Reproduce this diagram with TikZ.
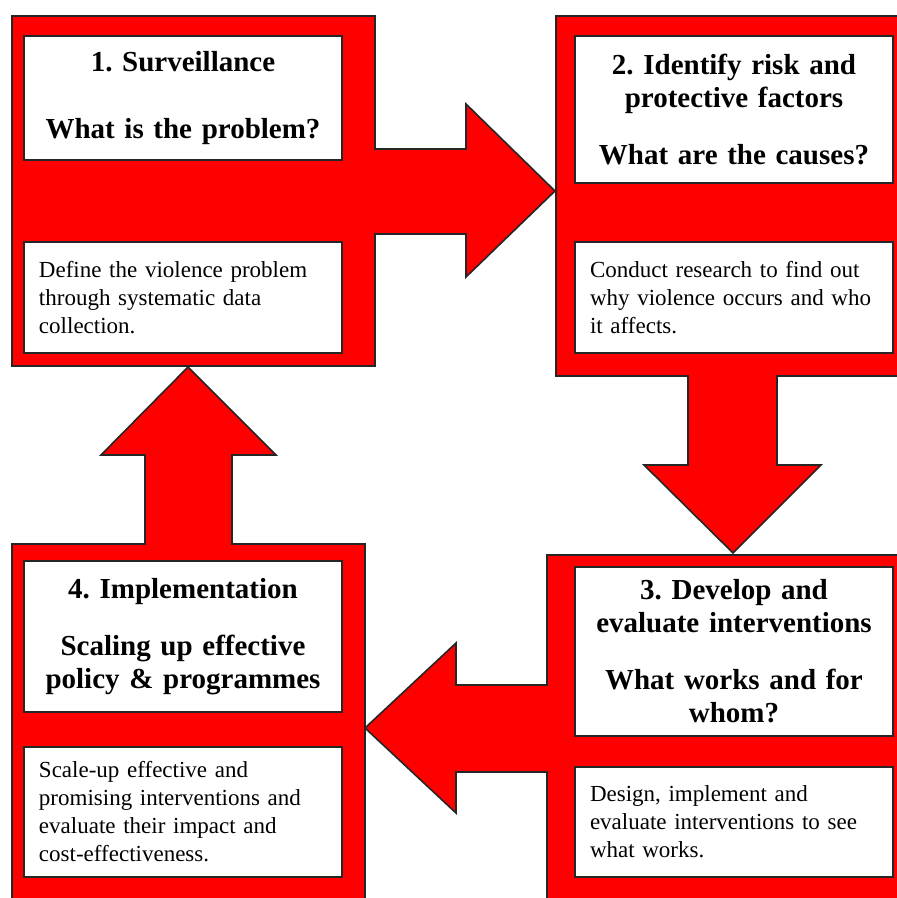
\documentclass[tikz,border=0pt]{standalone}
\usepackage{fontspec}
\setmainfont{Liberation Serif}
\usepackage{tikz}

\begin{document}
\frenchspacing
\begin{tikzpicture}[x=0.5pt,y=-0.5pt,
  panel/.style={fill=red,draw=black!85,line width=0.8pt,line join=miter},
  titlebox/.style={draw=black!85,fill=white,line width=0.8pt,inner sep=0pt,
    minimum width=159pt,text width=152pt,align=center,
    font=\bfseries\fontsize{14.5}{16.5}\selectfont},
  bodybox/.style={draw=black!85,fill=white,line width=0.8pt,inner sep=0pt,
    minimum width=159pt,text width=144pt,align=left,
    font=\fontsize{11.5}{14}\selectfont}]
\useasboundingbox (0,0) rectangle (897,898);
\clip (0,0) rectangle (897,898);
\draw[panel] (12,16) -- (375,16) -- (375,149) -- (466,149) -- (466,104) -- (555,191)
  -- (466,277) -- (466,234) -- (375,234) -- (375,366) -- (12,366) -- cycle;
\draw[panel] (556,16) -- (905,16) -- (905,376) -- (777,376) -- (777,465) -- (821,465)
  -- (733,553) -- (644,465) -- (688,465) -- (688,376) -- (556,376) -- cycle;
\draw[panel] (547,555) -- (905,555) -- (905,905) -- (547,905) -- (547,772) -- (456,772)
  -- (456,813) -- (365,728) -- (456,643) -- (456,685) -- (547,685) -- cycle;
\draw[panel] (12,544) -- (145,544) -- (145,455) -- (101,455) -- (188,367) -- (276,455)
  -- (232,455) -- (232,544) -- (365,544) -- (365,905) -- (12,905) -- cycle;
\node[titlebox,minimum height=62pt] (surv) at (183,98)
  {1. Surveillance\\[17pt] What is the problem?};
\node[bodybox,minimum height=55.5pt] (survtxt) at (183,297.5)
  {Define the violence problem\\ through systematic data\\ collection.};
\node[titlebox,minimum height=73.5pt] (risk) at (734,109.5)
  {2. Identify risk and\\ protective factors\\[12pt] What are the causes?};
\node[bodybox,minimum height=55.5pt] (risktxt) at (734,297.5)
  {Conduct research to find out\\ why violence occurs and who\\ it affects.};
\node[titlebox,minimum height=84.5pt] (dev) at (734,651.5)
  {3. Develop and\\ evaluate interventions\\[12pt] What works and for\\ whom?};
\node[bodybox,minimum height=55pt] (devtxt) at (734,822)
  {Design, implement and\\ evaluate interventions to see\\ what works.};
\node[titlebox,minimum height=75.5pt] (impl) at (183,636.5)
  {4. Implementation\\[12pt] Scaling up effective\\ policy \& programmes};
\node[bodybox,minimum height=65pt] (impltxt) at (183,812)
  {Scale-up effective and\\ promising interventions and\\ evaluate their impact and\\ cost-effectiveness.};
\end{tikzpicture}
\end{document}
